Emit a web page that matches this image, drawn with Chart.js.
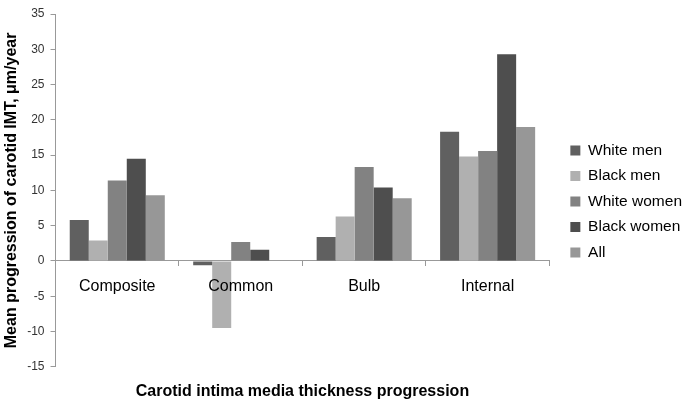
<!DOCTYPE html>
<html>
<head>
<meta charset="utf-8">
<script src="https://cdn.jsdelivr.net/npm/chart.js@4"></script>
<style>
  html, body { margin: 0; padding: 0; background: #fff; }
  #wrap { width: 685px; height: 403px; }
</style>
</head>
<body>
<div id="wrap"><canvas id="chart1" width="685" height="403"></canvas></div>
<script>
// categories et valeurs
var categories = ["Composite", "Common", "Bulb", "Internal"];
var whiteMen = [5.8, -0.6, 3.4, 18.3];
var blackMen = [2.9, -9.5, 6.3, 14.8];
var whiteWomen = [11.4, 2.7, 13.3, 15.6];
var blackWomen = [14.5, 1.6, 10.4, 29.3];
var allGroups = [9.3, 0, 8.9, 19.0];
var yTicks = [35, 30, 25, 20, 15, 10, 5, 0, -5, -10, -15];

var fontName = "'Liberation Sans', Arial, sans-serif";

function serie(label, data, color){
    return {
        label: label,
        data: data,
        backgroundColor: color,
        borderWidth: 0,
        barPercentage: 1.0,
        categoryPercentage: 0.77
    };
}

// axe vide qui sert juste d'espace
function spacer(pos, axis, size){
    return {
        position: pos,
        axis: axis,
        display: true,
        grid: { display: false },
        border: { display: false },
        ticks: { display: false },
        afterFit: function(scale){
            if (axis == 'y') { scale.width = size; } else { scale.height = size; }
        }
    };
}

ctx = document.getElementById('chart1').getContext('2d');

const myChart = new Chart(ctx, {
    type: 'bar',
    data: {
        labels: categories,
        datasets: [
            serie("White men", whiteMen, "#606060"),
            serie("Black men", blackMen, "#b0b0b0"),
            serie("White women", whiteWomen, "#828282"),
            serie("Black women", blackWomen, "#4e4e4e"),
            serie("All", allGroups, "#979797")
        ]
    },
    options: {
        responsive: false,
        animation: false,
        layout: { padding: { top: 0, right: -7, left: 0, bottom: 0 } },
        plugins: {
            tooltip: { enabled: false },
            legend: {
                position: 'right',
                maxWidth: 200,
                labels: {
                    boxWidth: 10,
                    boxHeight: 10,
                    padding: 10,
                    color: '#000',
                    font: { family: fontName, size: 15.5 }
                }
            },
            title: {
                display: true,
                position: 'bottom',
                fullSize: false,
                text: 'Carotid intima media thickness progression',
                color: '#000',
                font: { family: fontName, size: 16, weight: 'bold' },
                padding: { top: 15, bottom: 2 }
            }
        },
        scales: {
            x: {
                position: { y: 0 },
                grid: {
                    display: true,
                    drawOnChartArea: false,
                    drawTicks: true,
                    tickLength: 5,
                    color: '#999'
                },
                border: { color: '#999' },
                ticks: {
                    z: 1,
                    color: '#000',
                    padding: 11,
                    font: { family: fontName, size: 16 }
                }
            },
            y: {
                min: -15,
                max: 35,
                afterBuildTicks: function(axis){
                    axis.ticks = yTicks.map(function(v){ return { value: v }; });
                },
                grid: {
                    display: true,
                    drawOnChartArea: false,
                    drawTicks: true,
                    tickLength: 5,
                    color: '#999'
                },
                border: { color: '#999' },
                ticks: {
                    color: '#333',
                    padding: 6,
                    font: { family: fontName, size: 12 }
                },
                title: {
                    display: true,
                    text: 'Mean progression of carotid IMT, \u03bcm/year',
                    color: '#000',
                    font: { family: fontName, size: 16, weight: 'bold' },
                    padding: { top: 2, bottom: 0 }
                }
            },
            gapRight: spacer('right', 'y', 11),
            gapTop: spacer('top', 'x', 14)
        }
    }
});
</script>
</body>
</html>
